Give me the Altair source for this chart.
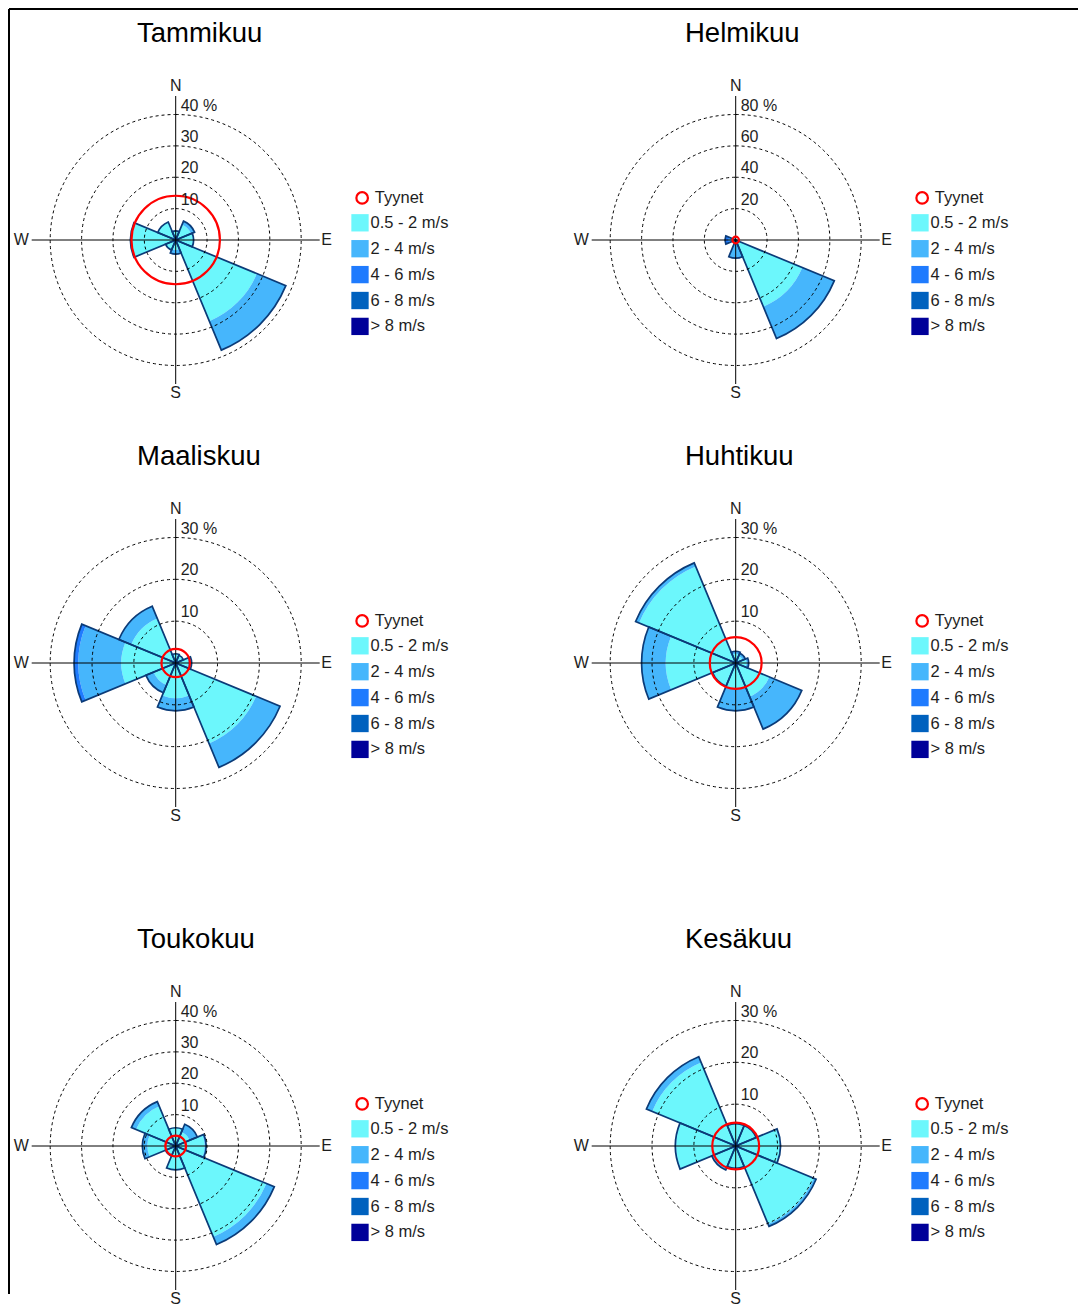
import math
import altair as alt
import pandas as pd

FONT = "Liberation Sans"

# ---------------- data ----------------
MONTHS = ["Tammikuu", "Helmikuu", "Maaliskuu", "Huhtikuu", "Toukokuu", "Kesäkuu"]
RING_STEP = [10, 20, 10, 10, 10, 10]
RING_COUNT = [4, 4, 3, 3, 4, 3]
DIRECTIONS = ["N", "NE", "E", "SE", "S", "SW", "W", "NW"]
DIR_DEG = [0, 45, 90, 135, 180, 225, 270, 315]
COMPASS = ["N", "E", "S", "W"]
SPEED_CLASSES = ["0.5 - 2 m/s", "2 - 4 m/s", "4 - 6 m/s", "6 - 8 m/s", "> 8 m/s"]
SPEED_COLORS = ["#6cf7fc", "#46b6fc", "#1f7bfe", "#0061be", "#000099"]
CALM_LABEL = "Tyynet"
CALM = [14.1, 2.1, 3.4, 6.2, 3.3, 5.6]

# rows: speed classes, columns: directions N..NW (percent)
TAMMIKUU = [
    [2.9, 5.3, 5.5, 28.0, 3.2, 3.5, 14.0, 6.2],
    [0.0, 1.2, 0.2, 10.0, 1.3, 0.0, 0.4, 0.0],
    [0.0, 0.0, 0.0, 0.0, 0.0, 0.0, 0.0, 0.0],
    [0.0, 0.0, 0.0, 0.0, 0.0, 0.0, 0.0, 0.0],
    [0.0, 0.0, 0.0, 0.0, 0.0, 0.0, 0.0, 0.0],
]
HELMIKUU = [
    [0.0, 0.0, 0.0, 46.0, 2.5, 0.0, 1.0, 0.0],
    [0.0, 0.0, 0.0, 22.0, 9.0, 0.0, 3.5, 0.0],
    [0.0, 0.0, 0.0, 0.0, 0.0, 0.0, 2.3, 0.0],
    [0.0, 0.0, 0.0, 0.0, 0.0, 0.0, 0.0, 0.0],
    [0.0, 0.0, 0.0, 0.0, 0.0, 0.0, 0.0, 0.0],
]
MAALISKUU = [
    [2.2, 2.0, 3.0, 20.8, 8.4, 5.7, 13.0, 11.5],
    [0.0, 0.0, 0.8, 6.2, 3.0, 2.0, 10.3, 3.2],
    [0.0, 0.0, 0.0, 0.0, 0.0, 0.0, 1.0, 0.0],
    [0.0, 0.0, 0.0, 0.0, 0.0, 0.0, 0.0, 0.0],
    [0.0, 0.0, 0.0, 0.0, 0.0, 0.0, 0.0, 0.0],
]
HUHTIKUU = [
    [2.2, 1.8, 2.6, 8.7, 6.0, 6.0, 16.7, 25.0],
    [0.6, 0.7, 0.5, 8.4, 5.4, 0.0, 5.8, 0.9],
    [0.0, 0.0, 0.0, 0.0, 0.0, 0.0, 0.0, 0.0],
    [0.0, 0.0, 0.0, 0.0, 0.0, 0.0, 0.0, 0.0],
    [0.0, 0.0, 0.0, 0.0, 0.0, 0.0, 0.0, 0.0],
]
TOUKOKUU = [
    [5.8, 4.8, 9.2, 31.3, 7.6, 3.5, 9.0, 13.7],
    [0.0, 2.7, 0.5, 2.7, 0.0, 0.0, 1.6, 1.6],
    [0.0, 0.0, 0.0, 0.0, 0.0, 0.0, 0.0, 0.0],
    [0.0, 0.0, 0.0, 0.0, 0.0, 0.0, 0.0, 0.0],
    [0.0, 0.0, 0.0, 0.0, 0.0, 0.0, 0.0, 0.0],
]
KESAKUU = [
    [5.3, 5.3, 10.5, 20.2, 5.3, 5.8, 14.2, 21.6],
    [0.0, 0.0, 0.2, 0.6, 0.0, 0.4, 0.2, 1.5],
    [0.0, 0.0, 0.0, 0.0, 0.0, 0.0, 0.0, 0.0],
    [0.0, 0.0, 0.0, 0.0, 0.0, 0.0, 0.0, 0.0],
    [0.0, 0.0, 0.0, 0.0, 0.0, 0.0, 0.0, 0.0],
]
MONTH_DATA = [TAMMIKUU, HELMIKUU, MAALISKUU, HUHTIKUU, TOUKOKUU, KESAKUU]

# ---------------- layout / style ----------------
COL_W = [560, 510]
ROW_H = [423, 483, 380]
CX, CY = 167.7, 232.0          # rose centre inside each panel (px)
R_OUTER = 125.5                # radius of outermost ring (px)
AXIS_PX = 144.0                # half length of the cross hair (px)
TITLE_X = [129, 117]
TITLE_BASE = CY - 198.3
OUTLINE = "#0b3b78"
TEXT = "#1e1e1e"
LEGEND_FS = 16.5
COMPASS_OFF = {"N": (0, 154), "E": (151, 0), "S": (0, -153), "W": (-154.5, 0)}


def rose_panel(i, col, row):
    W, H = COL_W[col], ROW_H[row]
    step, n = RING_STEP[i], RING_COUNT[i]
    outer = step * n
    k = R_OUTER / outer            # px per percent
    half = 360.0 / len(DIRECTIONS) / 2

    xs = alt.Scale(domain=[-CX / k, (W - CX) / k], nice=False, zero=False)
    ys = alt.Scale(domain=[-(H - CY) / k, CY / k], nice=False, zero=False)
    rs = alt.Scale(type="linear", domain=[0, outer], range=[0, R_OUTER], nice=False, zero=True)
    ts = alt.Scale(type="linear", domain=[0, 360], range=[0, 2 * math.pi], nice=False, zero=False)
    x0 = alt.XDatum(0, scale=xs, axis=None)
    y0 = alt.YDatum(0, scale=ys, axis=None)

    data = MONTH_DATA[i]
    seg_rows, tot_rows = [], []
    for j, (d, deg) in enumerate(zip(DIRECTIONS, DIR_DEG)):
        r0 = 0.0
        for c, cls in enumerate(SPEED_CLASSES):
            v = data[c][j]
            if v > 0:
                seg_rows.append(dict(dir=d, cls=cls, t0=deg - half, t1=deg + half, r0=r0, r1=r0 + v))
                r0 += v
        if r0 > 0:
            tot_rows.append(dict(dir=d, t0=deg - half, t1=deg + half, total=r0))
    seg_df = pd.DataFrame(seg_rows)
    tot_df = pd.DataFrame(tot_rows)

    ring_vals = [step * (m + 1) for m in range(n)]
    ring_lab = [str(v) for v in ring_vals[:-1]] + [f"{ring_vals[-1]} %"]
    ring_df = pd.DataFrame({"ring": ring_vals, "label": ring_lab})

    A = AXIS_PX / k
    cross_df = pd.DataFrame({"x": [0, -A], "x2": [0, A], "y": [-A, 0], "y2": [A, 0]})
    comp_df = pd.DataFrame({
        "lab": COMPASS,
        "x": [COMPASS_OFF[c][0] / k for c in COMPASS],
        "y": [COMPASS_OFF[c][1] / k for c in COMPASS],
    })

    fill_legend = alt.Legend(
        title=None, orient="none", legendX=CX + 175.3, legendY=CY - 26.2,
        symbolType="square", symbolSize=300, symbolStrokeWidth=0,
        labelFont=FONT, labelFontSize=LEGEND_FS, labelColor=TEXT, labelOffset=1.5,
        rowPadding=7.9, padding=0,
    )
    calm_legend = alt.Legend(
        title=None, orient="none", legendX=CX + 178.2, legendY=CY - 50.3,
        symbolType="circle", symbolSize=133, symbolStrokeWidth=2.2,
        symbolFillColor="white",
        labelFont=FONT, labelFontSize=LEGEND_FS, labelColor=TEXT, labelOffset=4.4, padding=0,
    )

    segs = alt.Chart(seg_df).mark_arc().encode(
        x=x0, y=y0,
        theta=alt.Theta("t0:Q", scale=ts, stack=None),
        theta2="t1:Q",
        radius=alt.Radius("r1:Q", scale=rs, stack=None),
        radius2="r0:Q",
        fill=alt.Fill("cls:N", scale=alt.Scale(domain=SPEED_CLASSES, range=SPEED_COLORS),
                      legend=fill_legend),
    )
    outline = alt.Chart(tot_df).mark_arc(filled=False, stroke=OUTLINE, strokeWidth=1.7).encode(
        x=x0, y=y0,
        theta=alt.Theta("t0:Q", scale=ts, stack=None),
        theta2="t1:Q",
        radius=alt.Radius("total:Q", scale=rs, stack=None),
    )
    rings = alt.Chart(ring_df).mark_arc(
        filled=False, stroke="black", strokeWidth=1, strokeDash=[3, 3],
        theta=0, theta2=2 * math.pi,
    ).encode(x=x0, y=y0, radius=alt.Radius("ring:Q", scale=rs, stack=None))
    cross = alt.Chart(cross_df).mark_rule(color="black", strokeWidth=1).encode(
        x=alt.X("x:Q", scale=xs, axis=None), x2="x2:Q",
        y=alt.Y("y:Q", scale=ys, axis=None), y2="y2:Q",
    )
    calm = alt.Chart(pd.DataFrame({"label": [CALM_LABEL], "calm": [CALM[i]]})).mark_arc(
        filled=False, strokeWidth=2.2, theta=0, theta2=2 * math.pi,
    ).encode(
        x=x0, y=y0,
        radius=alt.Radius("calm:Q", scale=rs, stack=None),
        stroke=alt.Stroke("label:N", scale=alt.Scale(domain=[CALM_LABEL], range=["#ff0000"]),
                          legend=calm_legend),
    )
    ring_text = alt.Chart(ring_df).mark_text(
        align="left", baseline="alphabetic", dx=5, dy=-4, font=FONT, fontSize=16, color=TEXT,
    ).encode(x=x0, y=alt.Y("ring:Q", scale=ys, axis=None), text="label:N")
    comp_text = alt.Chart(comp_df).mark_text(
        align="center", baseline="middle", font=FONT, fontSize=16, color=TEXT,
    ).encode(x=alt.X("x:Q", scale=xs, axis=None), y=alt.Y("y:Q", scale=ys, axis=None), text="lab:N")
    title = alt.Chart(pd.DataFrame({"t": [MONTHS[i]]})).mark_text(
        align="left", baseline="alphabetic", font=FONT, fontSize=27.5, color="black",
    ).encode(x=alt.value(TITLE_X[col]), y=alt.value(TITLE_BASE), text="t:N")

    layers = [segs, outline, rings, cross, calm, ring_text, comp_text, title]
    frame = alt.Chart(pd.DataFrame({"a": [0]}))
    if row == 0:
        layers.append(frame.mark_rule(color="black", strokeWidth=2).encode(
            x=alt.value(1 if col == 0 else 0), x2=alt.value(W), y=alt.value(1)))
    if col == 0:
        layers.append(frame.mark_rule(color="black", strokeWidth=2).encode(
            x=alt.value(1), y=alt.value(1 if row == 0 else 0), y2=alt.value(H)))
    return alt.layer(*layers).properties(width=W, height=H)


panels = [rose_panel(i, i % 2, i // 2) for i in range(len(MONTHS))]
chart = alt.concat(*panels, columns=2, spacing=0, bounds="flush", align="each")
chart = chart.resolve_scale(fill="independent", stroke="independent", radius="independent",
                            theta="independent").resolve_legend(fill="independent", stroke="independent")
chart = chart.properties(padding=0).configure_view(stroke=None)
chart.save("out.html", embed_options={"renderer": "svg", "actions": False})
